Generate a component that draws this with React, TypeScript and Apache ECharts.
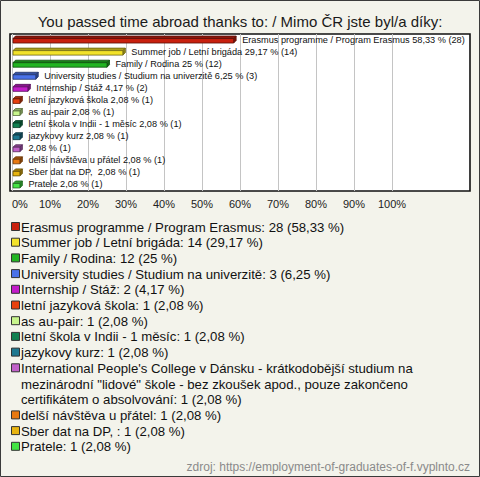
import React, { useEffect, useRef } from "react";
import * as echarts from "echarts";

const legendNames = [
  "Erasmus programme / Program Erasmus",
  "Summer job / Letní brigáda",
  "Family / Rodina",
  "University studies / Studium na univerzitě",
  "Internship / Stáž",
  "letní jazyková škola",
  "as au-pair",
  "letní škola v Indii - 1 měsíc",
  "jazykovy kurz",
  "International People's College v Dánsku - krátkodobější studium na mezinárodní \"lidové\" škole - bez zkoušek apod., pouze zakončeno certifikátem o absolvování",
  "delší návštěva u přátel",
  "Sber dat na DP, ",
  "Pratele",
];
const barNames = [
  "Erasmus programme / Program Erasmus",
  "Summer job / Letní brigáda",
  "Family / Rodina",
  "University studies / Studium na univerzitě",
  "Internship / Stáž",
  "letní jazyková škola",
  "as au-pair",
  "letní škola v Indii - 1 měsíc",
  "jazykovy kurz",
  "",
  "delší návštěva u přátel",
  "Sber dat na DP, ",
  "Pratele",
];
const counts = [28, 14, 12, 3, 2, 1, 1, 1, 1, 1, 1, 1, 1];
const percents = [58.33, 29.17, 25, 6.25, 4.17, 2.08, 2.08, 2.08, 2.08, 2.08, 2.08, 2.08, 2.08];
const colors = [
  "#c8200e", "#f2e22a", "#22b422", "#4a72e8", "#c21cc8", "#e8400e", "#c8f58c",
  "#108050", "#1e7890", "#c060c8", "#e87810", "#e8b410", "#44e444",
];
const xTicks = [0, 10, 20, 30, 40, 50, 60, 70, 80, 90, 100];

const fmt = (v: number) => String(v).replace(".", ",");

function shade(hex: string, f: number) {
  const n = parseInt(hex.slice(1), 16);
  const r = Math.round(((n >> 16) & 255) * f);
  const g = Math.round(((n >> 8) & 255) * f);
  const b = Math.round((n & 255) * f);
  return `rgb(${r},${g},${b})`;
}

const LEGEND_FONT = '13.2px "Liberation Sans", Arial, sans-serif';

function wrap(text: string, maxW: number): string[] {
  const c = document.createElement("canvas").getContext("2d")!;
  c.font = LEGEND_FONT;
  const words = text.split(" ");
  const lines: string[] = [];
  let cur = "";
  for (const w of words) {
    const t = cur ? cur + " " + w : w;
    if (cur && c.measureText(t).width > maxW) {
      lines.push(cur);
      cur = w;
    } else cur = t;
  }
  if (cur) lines.push(cur);
  return lines;
}

export default function App() {
  const ref = useRef<HTMLDivElement>(null);
  useEffect(() => {
    const chart = echarts.init(ref.current!, null, { renderer: "svg" });

    const legendEls: any[] = [];
    let row = 0;
    const y0 = 227;
    const step = 15.7;
    legendNames.forEach((name, i) => {
      const txt = `${name}: ${counts[i]} (${fmt(percents[i])} %)`;
      const lines = wrap(txt, 446);
      const y = y0 + row * step;
      legendEls.push({
        type: "rect",
        shape: { x: 11.5, y: y - 4.5, width: 8, height: 8 },
        style: { fill: colors[i], stroke: "#333", lineWidth: 1 },
      });
      lines.forEach((ln, k) => {
        legendEls.push({
          type: "text",
          x: 21,
          y: y + k * step,
          style: {
            text: ln,
            font: LEGEND_FONT,
            fill: "#111",
            verticalAlign: "middle",
            align: "left",
          },
        });
      });
      row += lines.length;
    });

    chart.setOption({
      animation: false,
      backgroundColor: "#f3f3eb",
      title: {
        text: "You passed time abroad thanks to: / Mimo ČR jste byl/a díky:",
        left: "center",
        top: 9,
        textStyle: {
          fontFamily: '"Liberation Sans", Arial, sans-serif',
          fontSize: 15,
          fontWeight: "normal",
          color: "#1a1a1a",
        },
      },
      grid: { left: 12, right: 88, top: 34, height: 157 },
      xAxis: {
        type: "value",
        min: 0,
        max: 100,
        interval: 10,
        axisLine: { show: false },
        axisTick: { show: false },
        splitLine: { show: true, lineStyle: { color: "#c4c4c4", width: 1 } },
        axisLabel: {
          formatter: (v: number) => (xTicks.includes(v) ? v + "%" : ""),
          fontFamily: '"Liberation Sans", Arial, sans-serif',
          fontSize: 11,
          color: "#222",
          margin: 7,
          alignMinLabel: "left",
        },
      },
      yAxis: {
        type: "category",
        data: barNames,
        inverse: true,
        show: false,
      },
      graphic: [
        {
          type: "rect",
          z: -2,
          shape: { x: 0.5, y: 0.5, width: 479, height: 476 },
          style: { fill: "#f3f3eb", stroke: "#3a3a3a", lineWidth: 1 },
          silent: true,
        },
        {
          type: "rect",
          z: -1,
          shape: { x: 10, y: 34, width: 460, height: 157 },
          style: { fill: "#ffffff", stroke: "#111", lineWidth: 1.6 },
          silent: true,
        },
        ...legendEls,
        {
          type: "text",
          right: 10,
          top: 461,
          style: {
            text: "zdroj: https://employment-of-graduates-of-f.vyplnto.cz",
            font: '12px "Liberation Sans", Arial, sans-serif',
            fill: "#8a8a8a",
          },
        },
      ],
      series: [
        {
          type: "custom",
          encode: { x: 0, y: 1 },
          data: percents.map((p, i) => [p, i]),
          renderItem: (params: any, api: any) => {
            const i = params.dataIndex;
            const v = api.value(0);
            const idx = api.value(1);
            const a = api.coord([0, idx]);
            const b = api.coord([v, idx]);
            const d = 2.5;
            const yt = a[1] - 1.5;
            const yb = a[1] + 3;
            const x0 = a[0] + 1;
            const x1 = b[0];
            const c = colors[i];
            const stroke = shade(c, 0.45);
            const label = `${barNames[i] ? barNames[i] + " " : ""}${fmt(percents[i])} % (${counts[i]})`;
            return {
              type: "group",
              children: [
                {
                  type: "polygon",
                  shape: { points: [[x0, yt], [x0 + d, yt - d], [x1 + d, yt - d], [x1, yt]] },
                  style: { fill: shade(c, 0.7), stroke, lineWidth: 0.8 },
                },
                {
                  type: "polygon",
                  shape: { points: [[x1, yt], [x1 + d, yt - d], [x1 + d, yb - d], [x1, yb]] },
                  style: { fill: shade(c, 0.6), stroke, lineWidth: 0.8 },
                },
                {
                  type: "rect",
                  shape: { x: x0, y: yt, width: x1 - x0, height: yb - yt },
                  style: { fill: c, stroke, lineWidth: 0.8 },
                },
                {
                  type: "text",
                  x: x1 + d + 6,
                  y: a[1] - 0.5,
                  style: {
                    text: label,
                    font: '9.2px "Liberation Sans", Arial, sans-serif',
                    fill: "#111",
                    verticalAlign: "middle",
                    align: "left",
                  },
                },
              ],
            };
          },
        },
      ],
    });
    return () => chart.dispose();
  }, []);
  return (
    <div
      ref={ref}
      style={{ position: "fixed", left: 0, top: 0, width: 480, height: 477 }}
    />
  );
}
